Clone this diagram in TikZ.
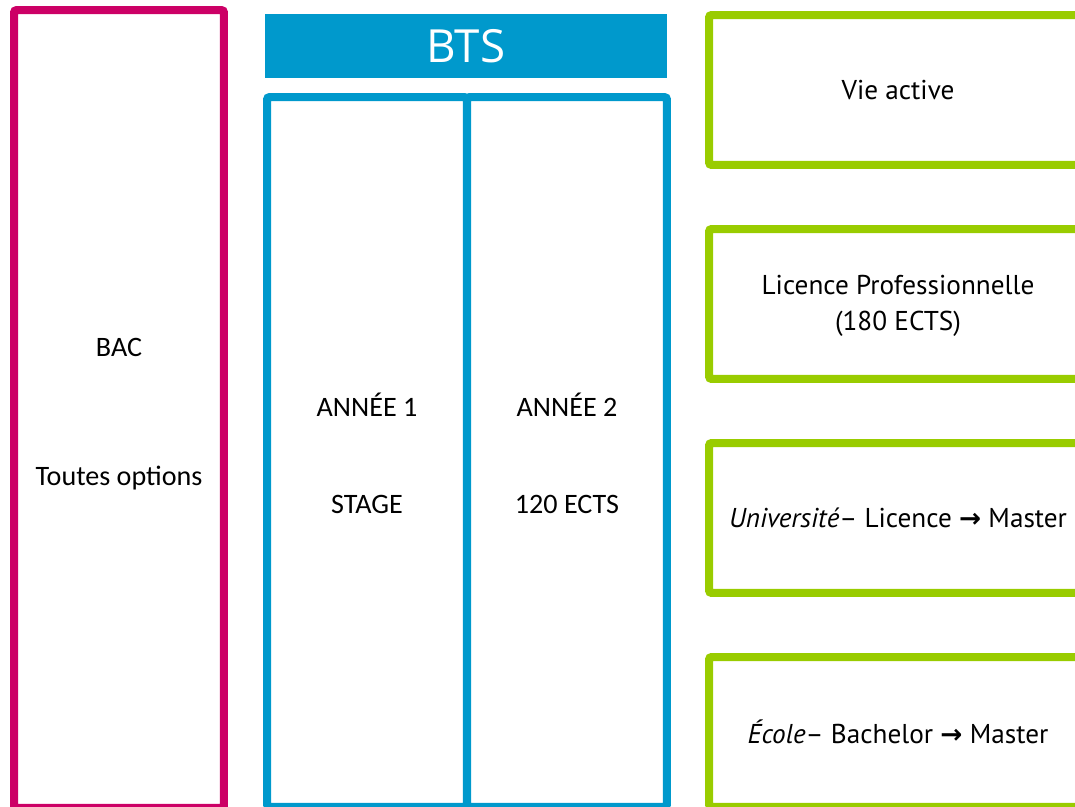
\documentclass[tikz,border=0pt]{standalone}
\usepackage{fontspec}
\setmainfont{Carlito}
\newfontfamily\hpfont{PT Sans}
\newfontfamily\btsfont{Open Sans}
\newfontfamily\arrowfont{DejaVu Sans}
\usepackage{tikz}

\definecolor{bacpink}{RGB}{204,0,102}
\definecolor{btsblue}{RGB}{0,153,204}
\definecolor{suitegreen}{RGB}{153,204,0}

\begin{document}
\begin{tikzpicture}[x=0.02cm, y=-0.02cm,
    cadre/.style={rectangle, draw, line width=0.16cm, rounded corners=0.05cm, inner sep=0pt},
    suite/.style={cadre, draw=suitegreen, minimum width=7.56cm, minimum height=3cm,
        align=center, font=\hpfont\fontsize{15.5}{20}\selectfont},
    colonne/.style={cadre, draw=btsblue, minimum width=4cm, minimum height=14.2cm},
    txt/.style={inner sep=0pt, font=\fontsize{16}{19}\selectfont}]
                    \useasboundingbox (0,0) rectangle (1075,807);
                    \clip (0,0) rectangle (1075,807);
                    \node[cadre, draw=bacpink, minimum width=4.2cm, minimum height=15.96cm] (bac) at (119, 409) {};
                    \node[txt] (bacA) at (119, 347) {BAC};
                    \node[txt] (bacB) at (119, 478) {Toutes options};
                    \node[rectangle, fill=btsblue, minimum width=8.04cm, minimum height=1.3cm, text=white, font=\btsfont\fontsize{26}{30}\selectfont] (bts) at (466, 46) {BTS};
                    \node[colonne] (an1) at (367, 452) {};
                    \node[colonne] (an2) at (567, 452) {};
                    \node[txt] (an1A) at (367, 405) {ANNÉE 1};
                    \node[txt] (an1B) at (367, 504) {STAGE};
                    \node[txt] (an2A) at (567, 405) {ANNÉE 2};
                    \node[txt] (an2B) at (567, 504) {120 ECTS};
                    \node[suite] (vie) at (898, 90) {Vie active};
                    \node[suite] (lp) at (898, 304) {};
                    \node[font=\hpfont\fontsize{15.5}{20}\selectfont, align=center] (lptxt) at (898, 306) {Licence Professionnelle\\[0.5pt](180 ECTS)};
                    \node[suite] (univ) at (898, 518) {\textit{Université}\/– Licence {\arrowfont\bfseries\fontsize{15}{20}\selectfont→} Master};
                    \node[suite] (ecole) at (898, 732) {\textit{École}\/– Bachelor {\arrowfont\bfseries\fontsize{15}{20}\selectfont→} Master};
                \end{tikzpicture}
\end{document}
